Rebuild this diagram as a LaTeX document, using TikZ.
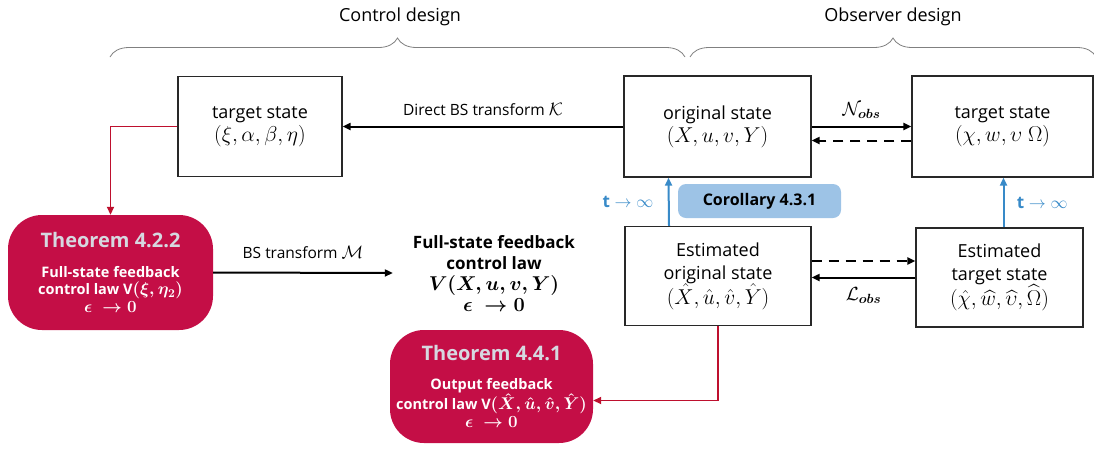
\RequirePackage{fix-cm}
\documentclass[tikz,border=0pt]{standalone}
\usepackage{fontspec}
\setmainfont{Open Sans}
\usepackage{amsmath}
\usetikzlibrary{arrows.meta,decorations.pathreplacing}

\definecolor{thmred}{RGB}{196,14,70}
\definecolor{linered}{RGB}{190,16,46}
\definecolor{thmgray}{RGB}{214,216,224}
\definecolor{tblue}{RGB}{56,138,200}
\definecolor{corblue}{RGB}{157,195,230}
\definecolor{boxgray}{RGB}{40,40,40}

\newcommand{\smath}[2]{{\fontsize{#1}{#1}\selectfont$#2$}}

\tikzset{
    state/.style={draw=boxgray, line width=1.3pt, align=center, font=\fontsize{18}{23}\selectfont, inner sep=0pt},
    theorem/.style={fill=thmred, rounded corners=34pt, align=center, text=white, inner sep=0pt,
        font=\fontsize{14.5}{17.5}\selectfont\bfseries\boldmath},
    blk/.style={line width=2pt, -{Triangle[length=8pt,width=7pt]}},
    dsh/.style={blk, dash pattern=on 10pt off 7pt},
    tarrow/.style={draw=tblue, line width=2pt, -{Triangle[length=8pt,width=7pt]}},
    redarrow/.style={draw=linered, line width=1.8pt, -{Triangle[length=8pt,width=7pt]}},
    designbrace/.style={draw=gray, line width=0.8pt, decorate, decoration={brace, amplitude=19pt}},
    lbl/.style={font=\fontsize{15.5}{19}\selectfont},
}

\begin{document}
\begin{tikzpicture}[x=1pt, y=-1pt]
    \useasboundingbox (0,0) rectangle (1094,448);

    \coordinate (bl) at (110,57);
    \coordinate (br) at (685,57);
    \coordinate (ol) at (690,57);
    \coordinate (or) at (1096,57);
    \node[font=\fontsize{18}{22}\selectfont] (ctrl) at (400,17) {Control design};
    \node[font=\fontsize{18}{22}\selectfont] (obsv) at (893,17) {Observer design};
    \draw[designbrace] (bl) -- (br);
    \draw[designbrace] (ol) -- (or);

    \node[state, minimum width=164pt, minimum height=100pt] (tgtL) at (260,126.5) {target state\\ \smath{21.5}{(\xi,\alpha,\beta,\eta)}};
    \node[state, minimum width=187pt, minimum height=101pt] (orig) at (717.5,126.5) {original state\\ \smath{21.5}{(X,u,v,Y)}};
    \node[state, minimum width=181pt, minimum height=101pt] (tgtR) at (1002.5,126.5) {target state\\ \smath{21.5}{(\chi,w,\upsilon\ \Omega)}};
    \node[state, minimum width=186pt, minimum height=99pt] (estO) at (718,276) {Estimated\\ original state\\[-1pt] \smath{21.5}{(\hat{X},\hat{u},\hat{v},\hat{Y})}};
    \node[state, minimum width=167pt, minimum height=99pt] (estT) at (999.5,277.5) {Estimated\\ target state\\[-1pt] \smath{21.5}{(\hat{\chi},\widehat{w},\widehat{\upsilon},\widehat{\Omega})}};

    \node[fill=corblue, rounded corners=8pt, minimum width=163pt, minimum height=34pt, inner sep=0pt,
        font=\fontsize{16}{19}\selectfont\bfseries] (cor) at (759.5,201) {Corollary 4.3.1};

    \node[theorem, minimum width=205pt, minimum height=115pt] (thmA) at (110.5,272.5)
        {{\fontsize{20}{24}\selectfont\color{thmgray}Theorem 4.2.2}\\[12pt]
         Full-state feedback\\ control law V\smath{17}{(\xi,\eta_2)}\\ \smath{17}{\epsilon\ \to 0}};
    \node[theorem, minimum width=203pt, minimum height=113pt] (thmB) at (491.5,386.5)
        {{\fontsize{20}{24}\selectfont\color{thmgray}Theorem 4.4.1}\\[11pt]
         Output feedback\\ control law V\smath{17}{(\hat{X},\hat{u},\hat{v},\hat{Y})}\\ \smath{17}{\epsilon\ \to 0}};

    \node[align=center, inner sep=0pt, font=\fontsize{17}{21}\selectfont\bfseries\boldmath] (law) at (494,273)
        {Full-state feedback\\ control law\\ \smath{20}{V(X,u,v,Y)}\\ \smath{20}{\epsilon\ \to 0}};

    \draw[blk] (orig.west) -- (tgtL.east) node[lbl, midway, above=7pt] {Direct BS transform \smath{18}{\mathcal{K}}};
    \draw[blk] (orig.east) -- (tgtR.west) node[lbl, midway, above=4pt] {\smath{19}{\mathcal{N}_{\boldsymbol{obs}}}};
    \draw[dsh] ([yshift=-14pt]tgtR.west) -- ([yshift=-14pt]orig.east);
    \draw[dsh] ([yshift=15pt]estO.east) -- ([yshift=15pt]estO.east -| estT.west);
    \draw[blk] (estT.west) -- (estT.west -| estO.east) node[lbl, midway, below=6pt] {\smath{19}{\mathcal{L}_{\boldsymbol{obs}}}};

    \draw[tarrow] ([xshift=-49pt]estO.north) -- ([xshift=-49pt]orig.south)
        node[lbl, midway, left=11pt, text=tblue] {\smath{17}{\mathbf{t}\to\infty}};
    \draw[tarrow] ([xshift=4pt]estT.north) -- ([xshift=4pt]estT.north |- tgtR.south)
        node[lbl, midway, right=9pt, text=tblue] {\smath{17}{\mathbf{t}\to\infty}};

    \draw[redarrow] (tgtL.west) -| (thmA.north);
    \draw[blk] (thmA.east) -- ([xshift=-20pt]law.west) node[lbl, midway, above=10pt] {BS transform \smath{18}{\mathcal{M}}};
    \draw[redarrow] (estO.south) |- ([yshift=-14pt]thmB.east);
\end{tikzpicture}
\end{document}
